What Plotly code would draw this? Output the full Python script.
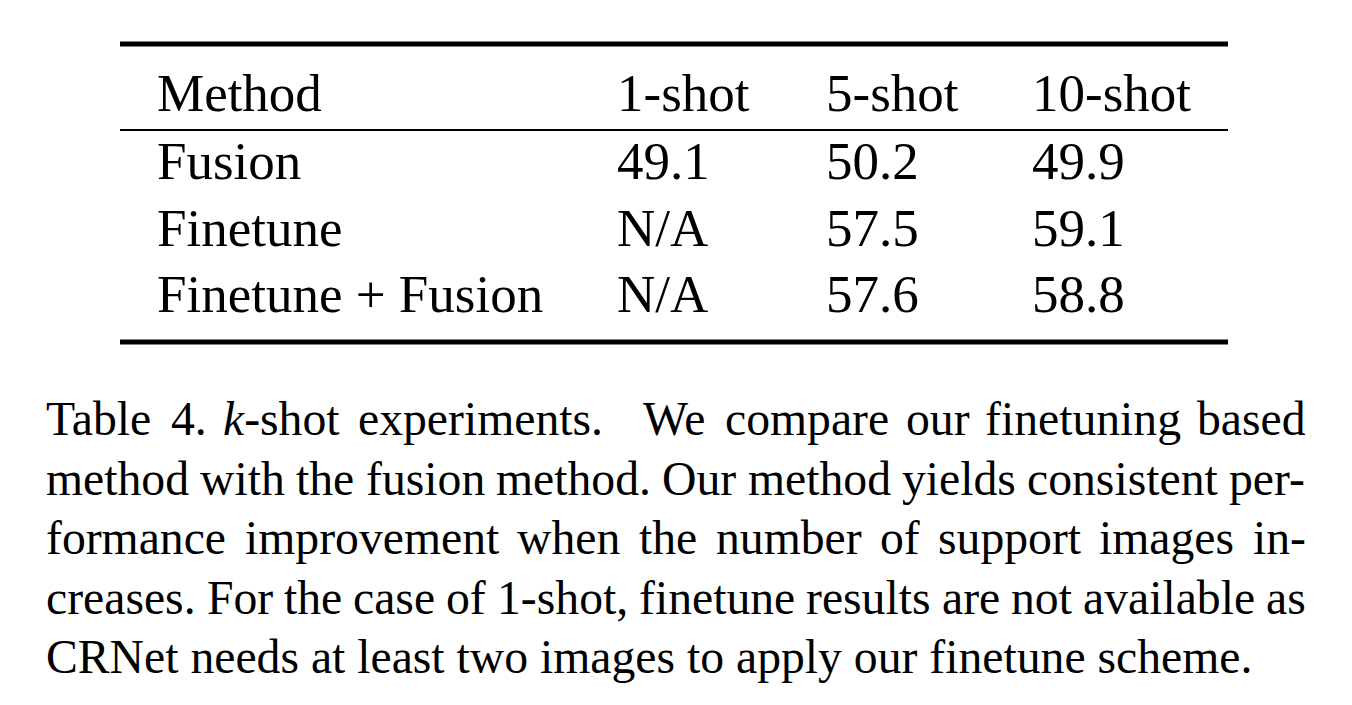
import re
import plotly.graph_objects as go

# ---------------- data ----------------
columns = ["Method", "1-shot", "5-shot", "10-shot"]
methods = ["Fusion", "Finetune", "Finetune + Fusion"]
shot_1 = [49.1, None, None]
shot_5 = [50.2, 57.5, 57.6]
shot_10 = [49.9, 59.1, 58.8]

caption_lines = [
    "Table 4. <i>k</i>-shot experiments.  We compare our finetuning based",
    "method with the fusion method. Our method yields consistent per-",
    "formance improvement when the number of support images in-",
    "creases. For the case of 1-shot, finetune results are not available as",
    "CRNet needs at least two images to apply our finetune scheme.",
]

# ---------------- layout constants ----------------
W, H = 1352, 705
PAGE_OFF = 8  # default body margin of the page
FONT = "Liberation Serif"
TABLE_SIZE = 53
CAP_SIZE = 47.7
RULE_L, RULE_R = 120, 1228
col_x = [156, 616, 825, 1031]
header_y = 93
row_y = [161, 228, 294]
cap_left, cap_right = 45, 1305
cap_y = [418, 478, 537, 597, 656]

# Times-compatible advance widths (1/1000 em)
TW = {" ": 250, ".": 250, ",": 250, "-": 333, "/": 278, "+": 564}
for d in "0123456789":
    TW[d] = 500
TW.update(dict(zip("ABCDEFGHIJKLMNOPQRSTUVWXYZ",
                   [722, 667, 667, 722, 611, 556, 722, 722, 333, 389, 722, 611, 889,
                    722, 722, 556, 722, 667, 556, 611, 722, 722, 944, 722, 722, 611])))
TW.update(dict(zip("abcdefghijklmnopqrstuvwxyz",
                   [444, 500, 444, 500, 444, 333, 500, 500, 278, 278, 500, 278, 778,
                    500, 500, 500, 500, 333, 389, 278, 500, 500, 722, 500, 500, 444])))


def text_width(s, size):
    plain = re.sub(r"<[^>]+>", "", s)
    return sum(TW.get(c, 500) for c in plain) / 1000.0 * size


def fmt(v):
    return "N/A" if v is None else f"{v:.1f}"


fig = go.Figure()
annotations = []


def add_text(x, y, text, size):
    annotations.append(dict(
        x=x, y=y, xref="x", yref="y", text=text, showarrow=False,
        xanchor="left", yanchor="middle", borderpad=0,
        font=dict(family=FONT, size=size, color="black"),
    ))


# header
for cx, name in zip(col_x, columns):
    add_text(cx, header_y, name, TABLE_SIZE)

# body rows
for i, m in enumerate(methods):
    cells = [m, fmt(shot_1[i]), fmt(shot_5[i]), fmt(shot_10[i])]
    for cx, c in zip(col_x, cells):
        add_text(cx, row_y[i], c, TABLE_SIZE)

# caption: justified lines (word placement), last line left aligned
for li, line in enumerate(caption_lines):
    if li == len(caption_lines) - 1:
        add_text(cap_left, cap_y[li], line, CAP_SIZE)
        continue
    words, weights, extra = [], [], 0.0
    for p in line.split(" "):
        if p == "":
            extra += 1.5
            continue
        if words:
            weights.append(1.0 + extra)
        extra = 0.0
        words.append(p)
    widths = [text_width(w, CAP_SIZE) for w in words]
    free = (cap_right - cap_left) - sum(widths)
    x = cap_left
    for k, w in enumerate(words):
        add_text(x, cap_y[li], w, CAP_SIZE)
        if k < len(weights):
            x += widths[k] + free * weights[k] / sum(weights)

shapes = [
    dict(type="line", xref="x", yref="y", x0=RULE_L, x1=RULE_R, y0=44, y1=44,
         line=dict(color="black", width=5)),
    dict(type="line", xref="x", yref="y", x0=RULE_L, x1=RULE_R, y0=130, y1=130,
         line=dict(color="black", width=2)),
    dict(type="line", xref="x", yref="y", x0=RULE_L, x1=RULE_R, y0=342, y1=342,
         line=dict(color="black", width=5)),
]

fig.update_layout(
    width=W, height=H, autosize=False,
    margin=dict(l=0, r=0, t=0, b=0),
    paper_bgcolor="white", plot_bgcolor="white",
    xaxis=dict(range=[PAGE_OFF, W + PAGE_OFF], visible=False, fixedrange=True),
    yaxis=dict(range=[H + PAGE_OFF, PAGE_OFF], visible=False, fixedrange=True),
    annotations=annotations, shapes=shapes, showlegend=False,
)

fig.write_html("out.html", config={"displayModeBar": False})
